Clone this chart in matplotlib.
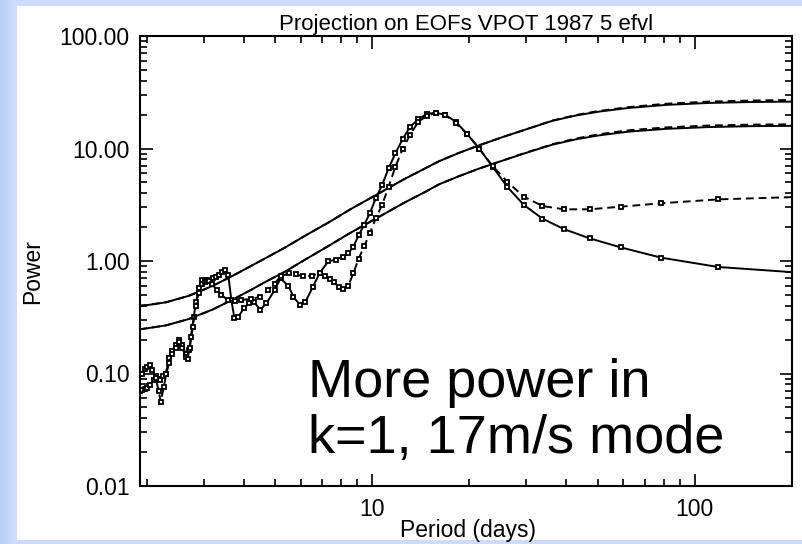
import numpy as np
import matplotlib
matplotlib.use("Agg")
import matplotlib.pyplot as plt
from matplotlib.patches import Rectangle
from matplotlib.ticker import LogLocator, FixedLocator, FixedFormatter, NullFormatter

plt.rcParams["font.family"] = ["Liberation Sans", "DejaVu Sans"]

# ---- data (period in days, power) ----
smooth_period = [1.9, 2.0, 2.3, 2.7, 3.2, 3.7, 4.17, 4.7, 5.35, 6.2, 7.38, 8.5, 10.5, 12.5,
                 14.5, 16.1, 18.5, 21.5, 25.5, 30.0, 36.1, 43.0, 50.6, 62.0, 81.3, 110.0,
                 150.0, 200.0]
upper_power = [0.400, 0.405, 0.43, 0.49, 0.60, 0.74, 0.89, 1.07, 1.31, 1.68, 2.23, 2.85, 4.0, 5.3,
               6.6, 7.7, 9.1, 10.7, 12.7, 14.8, 17.6, 19.7, 21.3, 22.9, 24.4, 25.4,
               25.9, 26.1]
upper_power_d = [0.400, 0.405, 0.43, 0.49, 0.60, 0.74, 0.89, 1.07, 1.31, 1.68, 2.23, 2.85, 4.0, 5.3,
                 6.6, 7.7, 9.1, 10.7, 12.7, 14.8, 17.7, 19.9, 21.6, 23.3, 25.0, 26.1,
                 26.7, 27.0]
lower_power = [0.247, 0.252, 0.268, 0.305, 0.37, 0.455, 0.545, 0.66, 0.80, 1.03, 1.38, 1.76, 2.47, 3.27,
               4.07, 4.8, 5.65, 6.65, 7.85, 9.15, 10.8, 12.1, 13.1, 14.1, 14.95, 15.5,
               15.8, 15.9]
lower_power_d = [0.247, 0.252, 0.268, 0.305, 0.37, 0.455, 0.545, 0.66, 0.80, 1.03, 1.38, 1.76, 2.47, 3.27,
                 4.07, 4.8, 5.65, 6.65, 7.85, 9.2, 10.9, 12.3, 13.4, 14.5, 15.4, 16.0,
                 16.3, 16.4]

peak_solid_period = [1.9, 1.93, 1.97, 2.0, 2.05, 2.08, 2.13, 2.17, 2.2, 2.25, 2.29, 2.35, 2.4,
                     2.46, 2.52, 2.58, 2.64, 2.71, 2.74, 2.8, 2.84, 2.91, 2.97, 3.03, 3.08,
                     3.14, 3.2, 3.27, 3.35, 3.42, 3.49, 3.58, 3.66, 3.74, 3.85, 4.0, 4.15,
                     4.3, 4.5, 4.7, 4.98, 5.2, 5.5, 5.7, 5.96, 6.2, 6.55, 6.87, 7.3, 7.7,
                     8.1, 8.43, 8.74, 9.08, 9.44, 9.83, 10.26, 10.73, 11.24, 11.8, 12.42,
                     13.1, 13.9, 14.75, 15.73, 16.86, 18.15, 19.67, 21.45, 23.6, 26.2, 29.5,
                     33.7, 39.3, 47.2, 59.0, 78.7, 118.0, 236.0]
peak_solid_power = [0.10, 0.10, 0.11, 0.115, 0.119, 0.108, 0.095, 0.09, 0.088, 0.095, 0.10, 0.136, 0.16,
                    0.179, 0.198, 0.18, 0.15, 0.161, 0.21, 0.32, 0.43, 0.57, 0.68, 0.68, 0.68,
                    0.67, 0.70, 0.72, 0.75, 0.80, 0.83, 0.75, 0.45, 0.31, 0.32, 0.38, 0.42,
                    0.43, 0.37, 0.42, 0.55, 0.70, 0.60, 0.48, 0.41, 0.43, 0.59, 0.78, 0.99, 1.03,
                    1.09, 1.17, 1.34, 1.70, 2.09, 2.66, 3.6, 4.74, 6.66, 9.06, 12.1,
                    15.6, 18.2, 20.3, 20.8, 19.9, 17.3, 13.5, 10.0, 6.9, 4.57, 3.15,
                    2.38, 1.92, 1.59, 1.32, 1.07, 0.885, 0.77]

peak_dashed_period = [1.9, 1.93, 1.97, 2.0, 2.05, 2.1, 2.13, 2.18, 2.21, 2.26, 2.3, 2.35, 2.4,
                      2.46, 2.52, 2.58, 2.64, 2.68, 2.72, 2.78, 2.84, 2.9, 2.97, 3.03, 3.08,
                      3.13, 3.18, 3.3, 3.41, 3.57, 3.75, 3.93, 4.2, 4.5, 4.75, 4.98, 5.2,
                      5.54, 5.8, 6.1, 6.5, 6.87, 7.12, 7.38, 7.61, 7.87, 8.14, 8.43, 8.74,
                      9.08, 9.44, 9.83, 10.26, 10.73, 11.24, 11.8, 12.42, 13.1, 13.9, 14.75,
                      15.73, 16.86, 18.15, 19.67, 21.45, 23.6, 26.2, 29.5, 33.7, 39.3, 47.2,
                      59.0, 78.7, 118.0, 236.0]
peak_dashed_power = [0.07, 0.071, 0.073, 0.075, 0.079, 0.088, 0.091, 0.07, 0.056, 0.076, 0.10, 0.125, 0.15,
                     0.17, 0.19, 0.17, 0.14, 0.135, 0.17, 0.26, 0.40, 0.52, 0.62, 0.65, 0.66,
                     0.66, 0.63, 0.55, 0.50, 0.45, 0.44, 0.45, 0.46, 0.48, 0.55, 0.63, 0.73,
                     0.78, 0.76, 0.73, 0.74, 0.78, 0.73, 0.69, 0.65, 0.59, 0.56, 0.60, 0.78,
                     1.05, 1.35, 1.76, 2.4, 3.15, 4.57, 6.89, 9.84, 13.2, 17.3, 19.5,
                     20.8, 19.9, 16.7, 13.5, 10.0, 7.0, 5.07, 3.73, 3.08, 2.88, 2.88,
                     3.04, 3.26, 3.53, 3.75]

title = "Projection on EOFs VPOT 1987 5 efvl"
y_ticks = [0.01, 0.1, 1.0, 10.0, 100.0]
y_tick_labels = ["0.01", "0.10", "1.00", "10.00", "100.00"]
x_ticks = [10, 100]
x_tick_labels = ["10", "100"]

W, H = 802, 544
fig = plt.figure(figsize=(W / 100, H / 100), dpi=100, facecolor="#cddcfb")

# white slide panel behind everything, gradient strip on the left
panel = fig.add_axes([17 / W, 4 / H, 1 - 17 / W, 1 - 10 / H], zorder=-5)
panel.axis("off")
panel.add_patch(Rectangle((0, 0), 1, 1, transform=panel.transAxes, facecolor="white",
                          edgecolor="none"))
strip = fig.add_axes([0, 0, 17 / W, 1], zorder=-5)
strip.imshow(np.linspace(0, 1, 20)[None, :], aspect="auto", extent=[0, 1, 0, 1],
             cmap=matplotlib.colors.LinearSegmentedColormap.from_list("b", ["#b8cff8", "#cfdffc"]))
strip.axis("off")

ax = fig.add_axes([139.5 / W, (H - 486) / H, (792 - 139.5) / W, (486 - 36) / H])
ax.set_xscale("log")
ax.set_yscale("log")
ax.set_xlim(1.9, 200)
ax.set_ylim(0.01, 100)

lw = 1.4
dash = (0, (4, 2.5))
ax.plot(smooth_period, upper_power, color="black", lw=lw)
ax.plot(smooth_period, upper_power_d, color="black", lw=lw, ls=dash)
ax.plot(smooth_period, lower_power, color="black", lw=lw)
ax.plot(smooth_period, lower_power_d, color="black", lw=lw, ls=dash)

mk = dict(marker="s", ms=3.5, mfc="white", mec="black", mew=1.3)
ax.plot(peak_solid_period, peak_solid_power, color="black", lw=lw, **mk)
ax.plot(peak_dashed_period, peak_dashed_power, color="black", lw=lw, ls=dash, **mk)

for s in ax.spines.values():
    s.set_linewidth(1.5)

ax.yaxis.set_major_locator(FixedLocator(y_ticks))
ax.yaxis.set_major_formatter(FixedFormatter(y_tick_labels))
ax.yaxis.set_minor_locator(LogLocator(base=10, subs=np.arange(2, 10)))
ax.yaxis.set_minor_formatter(NullFormatter())
ax.xaxis.set_major_locator(FixedLocator(x_ticks))
ax.xaxis.set_major_formatter(FixedFormatter(x_tick_labels))
ax.xaxis.set_minor_locator(LogLocator(base=10, subs=np.arange(2, 10)))
ax.xaxis.set_minor_formatter(NullFormatter())

ax.tick_params(which="both", direction="in", top=True, right=True, width=1.2, labelsize=16.5)
ax.tick_params(which="major", length=9)
ax.tick_params(which="minor", length=5)
ax.tick_params(axis="y", pad=7)
ax.tick_params(axis="x", pad=9)

ax.set_title(title, fontsize=16, pad=4)
fig.text(33 / W, 1 - 272 / H, "Power", rotation=90, fontsize=16.5, ha="center", va="center")
fig.text(468 / W, 1 - 530 / H, "Period (days)", fontsize=16.5, ha="center", va="center")

ax.text(308 / W, 1 - 397 / H, "More power in", transform=fig.transFigure, fontsize=39,
        ha="left", va="baseline")
ax.text(308 / W, 1 - 453 / H, "k=1, 17m/s mode", transform=fig.transFigure, fontsize=39,
        ha="left", va="baseline")

fig.savefig("out.png", dpi=100, facecolor=fig.get_facecolor())
